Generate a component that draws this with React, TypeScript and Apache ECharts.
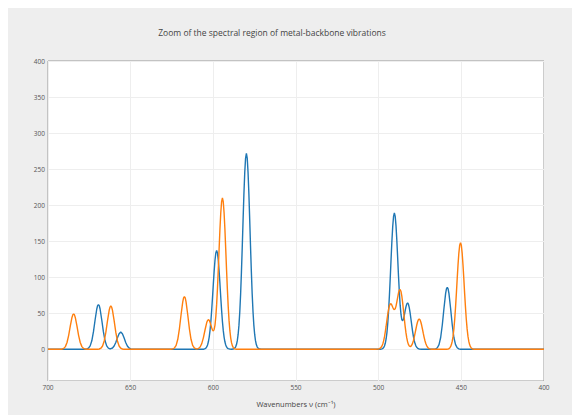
import React, { useEffect, useRef } from "react";
import * as echarts from "echarts";

const titleText = "Zoom of the spectral region of metal-backbone vibrations";
const xAxisTitle = "Wavenumbers ν (cm⁻¹)";

// Blue spectrum: [wavenumber, intensity]
const blueSpectrum: [number, number][] = [
  [700, 0], [678, 0], [676.5, 0.4], [675.5, 1.5], [674.5, 4.7], [673.5, 11.8], [672.5, 24.5], [671.5, 41.0],
  [670.5, 55.9], [670, 60.5], [669.5, 62], [669, 60.5], [668.5, 55.9], [667.5, 41.0], [666.5, 24.5],
  [665.5, 11.8], [664.5, 4.7], [663.5, 1.6], [662.5, 0.7], [662, 0.8], [661, 1.8], [660, 4.6], [659, 9.5],
  [658, 15.9], [657, 21.6], [656, 24], [655, 21.6], [654, 15.9], [653, 9.5], [652, 4.6], [651, 1.8],
  [650, 0.6], [649, 0.15], [648, 0], [606, 0],
  [605, 0.9], [604.5, 1.7], [604, 3.3], [603.5, 6.0], [603, 10.4], [602.5, 16.9], [602, 26.2], [601.5, 38.6],
  [601, 54.1], [600.5, 71.8], [600, 90.7], [599.5, 108.6], [599, 123.6], [598.5, 133.6], [598, 137],
  [597.5, 133.6], [597, 123.6], [596.5, 108.6], [596, 90.7], [595.5, 71.8], [595, 54.1], [594.5, 38.6],
  [594, 26.2], [593.5, 16.9], [593, 10.4], [592.5, 6.0], [592, 3.3], [591.5, 1.7], [591, 0.9], [590, 0.2],
  [589, 0.1], [588, 0.35], [587.5, 0.8], [587, 1.7], [586.5, 3.5], [586, 6.6], [585.5, 11.9], [585, 20.6],
  [584.5, 33.5], [584, 52.0], [583.5, 76.7], [583, 107.4], [582.5, 142.5], [582, 180.1], [581.5, 215.7],
  [581, 245.3], [580.5, 265.2], [580, 272], [579.5, 265.2], [579, 245.3], [578.5, 215.7], [578, 180.1],
  [577.5, 142.5], [577, 107.4], [576.5, 76.7], [576, 52.0], [575.5, 33.5], [575, 20.6], [574.5, 11.9],
  [574, 6.6], [573.5, 3.5], [573, 1.7], [572.5, 0.8], [572, 0.35], [571, 0], [499, 0],
  [498, 0.6], [497.5, 1.2], [497, 2.4], [496.5, 4.6], [496, 8.3], [495.5, 14.3], [495, 23.2], [494.5, 36.1],
  [494, 53.3], [493.5, 74.7], [493, 99.0], [492.5, 125.1], [492, 149.9], [491.5, 170.5], [491, 184.3],
  [490.5, 189.1], [490, 184.5], [489.5, 170.9], [489, 150.7], [488.5, 126.7], [488, 101.8], [487.5, 79.5],
  [487, 61.2], [486.5, 48.3], [486, 41.2], [485.5, 39.6], [485, 41.8], [484.5, 47.0], [484, 53.2],
  [483.5, 58.9], [483, 63.0], [482.5, 64.3], [482, 62.5], [481.5, 57.7], [481, 50.8], [480.5, 42.4],
  [480, 33.5], [479.5, 25.3], [479, 18.0], [478.5, 12.2], [478, 7.9], [477.5, 4.8], [477, 2.8], [476.5, 1.6],
  [476, 0.8], [475.5, 0.4], [474, 0], [467, 0],
  [465.5, 0.5], [464.5, 2.1], [463.5, 6.5], [462.5, 16.4], [461.5, 34.0], [460.5, 56.9], [459.5, 77.6],
  [459, 83.9], [458.5, 86], [458, 83.9], [457.5, 77.6], [456.5, 56.9], [455.5, 34.0], [454.5, 16.4],
  [453.5, 6.5], [452.5, 2.1], [451.5, 0.5], [450.5, 0], [400, 0],
];

// Orange spectrum: [wavenumber, intensity]
const orangeSpectrum: [number, number][] = [
  [700, 0], [692, 0], [691.5, 0.3], [690.5, 1.2], [689.5, 3.7], [688.5, 9.4], [687.5, 19.4], [686.5, 32.4],
  [685.5, 44.2], [685, 47.8], [684.5, 49], [684, 47.8], [683.5, 44.2], [682.5, 32.4], [681.5, 19.4],
  [680.5, 9.4], [679.5, 3.7], [678.5, 1.2], [677.5, 0.3], [676, 0], [670, 0],
  [669, 0.4], [668, 1.5], [667, 4.5], [666, 11.5], [665, 23.7], [664, 39.7], [663, 54.1], [662.5, 58.5],
  [662, 60], [661.5, 58.5], [661, 54.1], [660, 39.7], [659, 23.7], [658, 11.5], [657, 4.5], [656, 1.5],
  [655, 0.4], [654, 0], [626, 0],
  [624.5, 0.5], [623.5, 1.8], [622.5, 5.5], [621.5, 13.9], [620.5, 28.8], [619.5, 48.3], [618.5, 65.8],
  [618, 71.2], [617.5, 73], [617, 71.2], [616.5, 65.8], [615.5, 48.3], [614.5, 28.8], [613.5, 13.9],
  [612.5, 5.5], [611.5, 1.8], [610.5, 0.6], [610, 0.5], [609, 1.0], [608, 3.1], [607, 7.8], [606, 16.2],
  [605, 27.1], [604, 37.0], [603.5, 40.0], [603, 41.1], [602.5, 40.3], [602, 37.6], [601.5, 33.8],
  [601, 29.8], [600.5, 26.6], [600, 25.4], [599.5, 27.5], [599, 33.6], [598.5, 45.1], [598, 62.3],
  [597.5, 84.8], [597, 111.0], [596.5, 139.5], [596, 166.8], [595.5, 189.4], [595, 204.8], [594.5, 210],
  [594, 204.8], [593.5, 189.4], [593, 166.5], [592.5, 139.0], [592, 110.0], [591.5, 83.0], [591, 59.2],
  [590.5, 40.1], [590, 25.8], [589.5, 15.9], [589, 9.2], [588.5, 5.1], [588, 2.7], [587.5, 1.3],
  [587, 0.6], [586, 0], [502, 0],
  [500.5, 0.2], [500, 0.4], [499.5, 0.8], [499, 1.5], [498.5, 2.7], [498, 4.6], [497.5, 7.5], [497, 11.7],
  [496.5, 17.2], [496, 24.1], [495.5, 32.0], [495, 40.5], [494.5, 48.6], [494, 55.5], [493.5, 60.5],
  [493, 63.0], [492.5, 63.1], [492, 61.2], [491.5, 58.4], [491, 56.0], [490.5, 55.0], [490, 56.3],
  [489.5, 59.9], [489, 65.7], [488.5, 72.1], [488, 78.1], [487.5, 82.2], [487, 83.0], [486.5, 80.3],
  [486, 73.9], [485.5, 64.8], [485, 54.0], [484.5, 42.7], [484, 32.2], [483.5, 23.1], [483, 15.7],
  [482.5, 10.3], [482, 6.7], [481.5, 4.6], [481, 3.8], [480.5, 4.2], [480, 5.7], [479.5, 8.2], [479, 11.9],
  [478.5, 16.6], [478, 22.0], [477.5, 27.8], [477, 33.3], [476.5, 37.9], [476, 41.0], [475.5, 42],
  [475, 41.0], [474.5, 37.9], [474, 33.3], [473.5, 27.8], [473, 22.0], [472.5, 16.6], [472, 11.8],
  [471.5, 8.0], [471, 5.2], [470.5, 3.2], [470, 1.8], [469.5, 1.0], [469, 0.5], [468.5, 0.3], [468, 0],
  [459, 0],
  [458, 0.4], [457.5, 0.9], [457, 1.9], [456.5, 3.6], [456, 6.5], [455.5, 11.2], [455, 18.2], [454.5, 28.3],
  [454, 41.7], [453.5, 58.5], [453, 77.6], [452.5, 98.0], [452, 117.4], [451.5, 133.5], [451, 144.3],
  [450.5, 148], [450, 144.3], [449.5, 133.5], [449, 117.4], [448.5, 98.0], [448, 77.6], [447.5, 58.5],
  [447, 41.7], [446.5, 28.3], [446, 18.2], [445.5, 11.2], [445, 6.5], [444.5, 3.6], [444, 1.9],
  [443.5, 0.9], [443, 0.4], [442, 0], [400, 0],
];

const xRange = [400, 700];
const yRange = [-44, 400];
const tickStep = 50;

const FONT = '"Open Sans", verdana, arial, sans-serif';

export default function App() {
  const ref = useRef<HTMLDivElement>(null);
  useEffect(() => {
    document.body.style.overflow = "hidden";
    const chart = echarts.init(ref.current!, null, { renderer: "svg" });
    chart.setOption({
      animation: false,
      backgroundColor: "#eeeeee",
      textStyle: { fontFamily: FONT },
      title: {
        text: titleText,
        left: 259,
        top: 15,
        textAlign: "center",
        textStyle: { fontFamily: FONT, fontSize: 8.5, fontWeight: "normal", color: "#444" },
      },
      grid: {
        left: 40,
        right: 36,
        top: 53,
        bottom: 34,
        show: true,
        backgroundColor: "#ffffff",
        borderColor: "#999999",
        borderWidth: 1,
        containLabel: false,
      },
      xAxis: {
        type: "value",
        min: xRange[0],
        max: xRange[1],
        interval: tickStep,
        inverse: true,
        name: xAxisTitle,
        nameLocation: "middle",
        nameGap: 19,
        nameTextStyle: { fontFamily: FONT, fontSize: 7.5, color: "#444" },
        axisLine: { show: false },
        axisTick: { show: false },
        axisLabel: { fontFamily: FONT, fontSize: 6.5, color: "#555", margin: 3 },
        splitLine: { show: true, lineStyle: { color: "#eeeeee", width: 1 } },
      },
      yAxis: {
        type: "value",
        min: yRange[0],
        max: yRange[1],
        splitNumber: 9,
        minInterval: tickStep,
        maxInterval: tickStep,
        axisLine: { show: false },
        axisTick: { show: false },
        axisLabel: {
          fontFamily: FONT,
          fontSize: 6.5,
          color: "#555",
          margin: 3,
          formatter: (v: number) => (v < 0 ? "" : String(Math.round(v))),
        },
        splitLine: { show: true, lineStyle: { color: "#eeeeee", width: 1 } },
      },
      series: [
        {
          type: "line",
          data: blueSpectrum,
          showSymbol: false,
          symbol: "none",
          lineStyle: { color: "#1f77b4", width: 1.4 },
          itemStyle: { color: "#1f77b4" },
        },
        {
          type: "line",
          data: orangeSpectrum,
          showSymbol: false,
          symbol: "none",
          lineStyle: { color: "#ff7f0e", width: 1.4 },
          itemStyle: { color: "#ff7f0e" },
        },
      ],
    });
    return () => chart.dispose();
  }, []);
  return <div ref={ref} style={{ width: 572, height: 407 }} />;
}
